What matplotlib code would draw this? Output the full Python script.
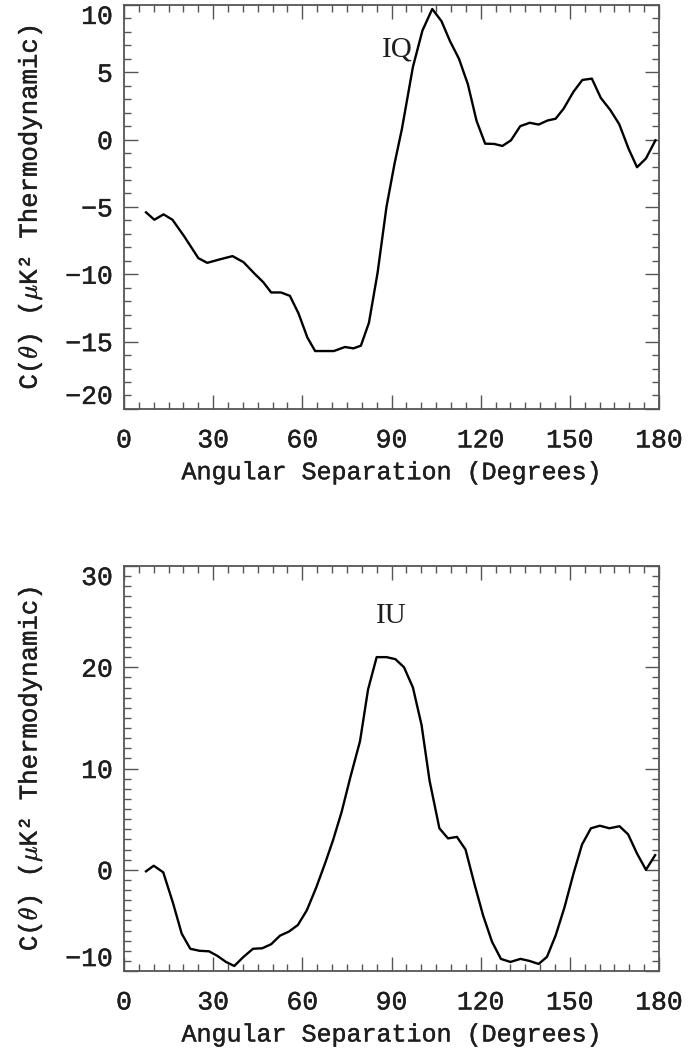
import numpy as np
import matplotlib
matplotlib.use("Agg")
import matplotlib.pyplot as plt
import matplotlib.patheffects as pe
from matplotlib.ticker import MultipleLocator

# IQ correlation
iq_x = [7.4, 10.2, 13.3, 16.3, 20.3, 25.0, 28.0, 32.1, 36.5, 40.2, 43.9, 46.9,
        49.5, 52.8, 55.8, 58.7, 61.7, 64.3, 70.6, 74.3, 77.2, 79.7, 82.4, 85.3,
        88.3, 91.0, 93.5, 97.2, 100.4, 103.7, 106.8, 109.7, 112.7, 115.7, 118.6,
        121.5, 124.5, 127.3, 130.2, 133.3, 136.5, 139.5, 142.5, 145.2, 147.9,
        151.2, 154.2, 157.4, 160.4, 163.6, 166.6, 169.8, 172.6, 175.6, 178.8]
iq_y = [-5.4, -5.95, -5.55, -5.95, -7.2, -8.8, -9.15, -8.9, -8.65, -9.1, -9.95,
        -10.6, -11.35, -11.35, -11.6, -12.9, -14.7, -15.7, -15.7, -15.4, -15.5,
        -15.3, -13.6, -9.9, -5.0, -1.8, 0.8, 5.4, 8.1, 9.7, 8.8, 7.3, 6.0, 4.1,
        1.4, -0.3, -0.32, -0.47, -0.05, 1.0, 1.25, 1.12, 1.42, 1.55, 2.3, 3.55,
        4.43, 4.53, 3.1, 2.2, 1.15, -0.7, -2.05, -1.4, -0.05]

# IU correlation
iu_x = [7.4, 10.0, 13.2, 16.5, 19.4, 22.3, 25.4, 28.6, 31.4, 34.3, 37.1, 40.2,
        43.4, 46.5, 49.5, 52.5, 55.5, 58.5, 61.5, 64.6, 67.6, 70.3, 73.2, 76.2,
        79.4, 82.1, 85.0, 88.3, 91.3, 94.2, 97.2, 100.1, 102.8, 106.1, 109.0,
        112.0, 114.9, 117.9, 120.8, 123.8, 126.8, 130.0, 133.4, 136.4, 139.5,
        142.3, 145.2, 148.2, 151.2, 154.1, 157.1, 160.1, 163.3, 166.7, 169.6,
        172.6, 175.6, 178.7]
iu_y = [-0.15, 0.4, -0.25, -3.3, -6.3, -7.8, -8.0, -8.05, -8.5, -9.1, -9.5,
        -8.6, -7.8, -7.75, -7.35, -6.5, -6.1, -5.45, -4.0, -1.8, 0.6, 2.9, 5.7,
        9.2, 12.7, 17.8, 21.0, 21.0, 20.8, 20.0, 18.0, 14.3, 8.8, 4.1, 3.1, 3.25,
        2.0, -1.4, -4.5, -7.1, -8.8, -9.1, -8.8, -9.0, -9.3, -8.6, -6.5, -3.7,
        -0.4, 2.5, 4.1, 4.35, 4.1, 4.3, 3.5, 1.6, 0.0, 1.45]

x_ticks = [0, 30, 60, 90, 120, 150, 180]
iq_ticks = [-20, -15, -10, -5, 0, 5, 10]
iu_ticks = [-10, 0, 10, 20, 30]
ylabel = r"C($\theta$) ($\mu$K² Thermodynamic)"
xlabel = "Angular Separation (Degrees)"

plt.rcParams['mathtext.fontset'] = 'cm'
mono = ['Liberation Mono', 'DejaVu Sans Mono']
ink = '#1e1e1e'
# thicken the thin mono strokes a touch
heavy = [pe.withStroke(linewidth=0.3, foreground=ink)]

fig = plt.figure(figsize=(6.89, 10.54), dpi=100)
ax1 = fig.add_axes([0.18, 0.612, 0.7765, 0.3833])
ax2 = fig.add_axes([0.18, 0.0787, 0.7765, 0.3843])

def style(ax, yticks, ymin):
    ax.set_xlim(0, 180)
    ax.set_ylim(yticks[0], yticks[-1])
    ax.set_xticks(x_ticks)
    ax.set_yticks(yticks)
    ax.xaxis.set_minor_locator(MultipleLocator(5))
    ax.yaxis.set_minor_locator(MultipleLocator(ymin))
    ax.tick_params(which='both', direction='in', top=True, right=True,
                   color='#555555', width=1.0)
    ax.tick_params(which='major', length=10)
    ax.tick_params(which='minor', length=5)
    ax.tick_params(axis='x', pad=14)
    ax.tick_params(axis='y', pad=8)
    for lab in ax.get_xticklabels() + ax.get_yticklabels():
        lab.set_family(mono)
        lab.set_fontsize(19)
        lab.set_color(ink)
        lab.set_path_effects(heavy)
    # end labels sit inside the axis range, as in the original
    ylabs = ax.get_yticklabels()
    ylabs[0].set_va('bottom')
    ylabs[-1].set_va('top')
    for s in ax.spines.values():
        s.set_color('#555555')
        s.set_linewidth(1.3)
    ax.set_xlabel(xlabel, family=mono, fontsize=18, color=ink,
                  path_effects=heavy)
    ax.xaxis.set_label_coords(0.5, -0.127)
    ax.set_ylabel(ylabel, family=mono, fontsize=18.5, color=ink,
                  path_effects=heavy)
    ax.yaxis.set_label_coords(-0.15, 0.5)

ax1.plot(iq_x, iq_y, color='black', lw=1.7)
style(ax1, iq_ticks, 1)
ax1.text(92, 6.7, 'IQ', family='Liberation Serif', fontsize=21,
         ha='center', va='center', color=ink)

ax2.plot(iu_x, iu_y, color='black', lw=1.7)
style(ax2, iu_ticks, 1)
ax2.text(90, 25.1, 'IU', family='Liberation Serif', fontsize=21,
         ha='center', va='center', color=ink)

fig.savefig('out.png', dpi=100)
